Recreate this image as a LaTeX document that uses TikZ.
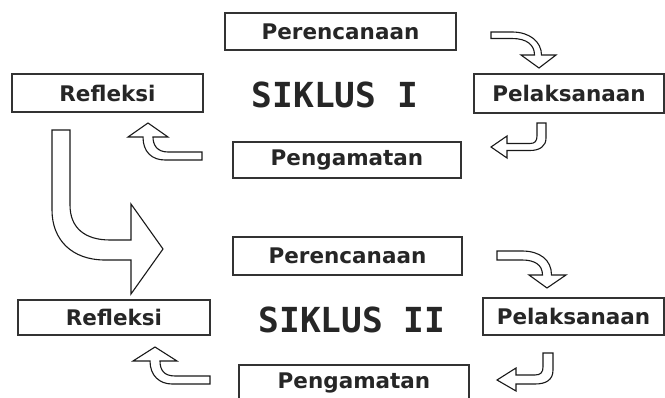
\documentclass[tikz,border=0pt]{standalone}
\usepackage{fontspec}
\newfontfamily\lblfont{DejaVu Sans}
\newfontfamily\sikfont{DejaVu Sans Mono}
\begin{document}
\begin{tikzpicture}[x=1pt,y=-1pt,
  box/.style={draw=black!80, line width=1.5pt, fill=white, inner sep=0pt,
    text=black!85, font=\lblfont\bfseries\fontsize{21.5}{24}\selectfont},
  siklus/.style={inner sep=0pt, text=black!85, font=\sikfont\bfseries\fontsize{34.5}{38}\selectfont},
  barrow/.style={draw=black!90, line width=1.1pt, fill=white, line join=miter}]
\clip (0,0) rectangle (665,398);
\fill[white] (0,0) rectangle (665,398);

% ---- Siklus I ----
\node[box, minimum width=231pt, minimum height=37pt] (p1) at (340.5,31.5) {Perencanaan};
\node[box, minimum width=191pt, minimum height=38pt] (r1) at (107.5,93) {Refleksi};
\node[box, minimum width=190pt, minimum height=39pt] (l1) at (569,93.5) {Pelaksanaan};
\node[box, minimum width=228pt, minimum height=36pt] (g1) at (347,160) {Pengamatan};
\node[siklus] (s1) at (335,95) {SIKLUS I};

% ---- Siklus II ----
\node[box, minimum width=229pt, minimum height=38pt] (p2) at (347.5,256) {Perencanaan};
\node[box, minimum width=192pt, minimum height=35pt] (r2) at (114,317.5) {Refleksi};
\node[box, minimum width=181pt, minimum height=37pt] (l2) at (573.5,316.5) {Pelaksanaan};
\node[box, minimum width=230pt, minimum height=36pt] (g2) at (354,383) {Pengamatan};
\node[siklus] (s2) at (352,320) {SIKLUS II};

% ---- block arrows, cycle I ----
\draw[barrow] (491,32) -- (512,32) .. controls (530,32) and (541.5,42) .. (541.5,55)
  -- (556,55) -- (539,68) -- (521,55) -- (534.5,55)
  .. controls (534.5,45) and (527,38.5) .. (512,38.5) -- (491,38.5) -- cycle;
\draw[barrow] (537,123) -- (546,123) -- (546,138) .. controls (546,146) and (540,150.5) .. (530,150.5)
  -- (507,150.5) -- (507,158) -- (491,147) -- (507,136) -- (507,143.5) -- (530,143.5)
  .. controls (535,143.5) and (537,141) .. (537,136) -- cycle;
\draw[barrow] (202,152) -- (168,152) .. controls (157,152) and (153,145) .. (153,137)
  -- (168,137) -- (148,123) -- (128,137) -- (143,137)
  .. controls (143,152) and (152,160) .. (165,160) -- (202,160) -- cycle;

% ---- big transition arrow ----
\draw[barrow] (52,130) -- (70,130) -- (70,205) .. controls (70,228) and (85,240) .. (110,240)
  -- (131,240) -- (131,204) -- (163,249) -- (131,294) -- (131,260) -- (105,260)
  .. controls (72,260) and (52,240) .. (52,210) -- cycle;

% ---- block arrows, cycle II ----
\draw[barrow] (497,251) -- (522,251) .. controls (540,251) and (551.5,260) .. (551.5,275)
  -- (566,275) -- (547,288) -- (529,275) -- (542.5,275)
  .. controls (542.5,265) and (535,260) .. (522,260) -- (497,260) -- cycle;
\draw[barrow] (543,353) -- (553,353) -- (553,370) .. controls (553,380) and (546,384) .. (535,384)
  -- (516,384) -- (516,391) -- (497,380) -- (516,368) -- (516,375) -- (535,375)
  .. controls (541,375) and (543,372) .. (543,367) -- cycle;
\draw[barrow] (210,376) -- (175,376) .. controls (164,376) and (160,370) .. (160,361)
  -- (177,361) -- (155,347) -- (133,361) -- (150,361)
  .. controls (150,376) and (160,384) .. (172,384) -- (210,384) -- cycle;
\end{tikzpicture}
\end{document}
